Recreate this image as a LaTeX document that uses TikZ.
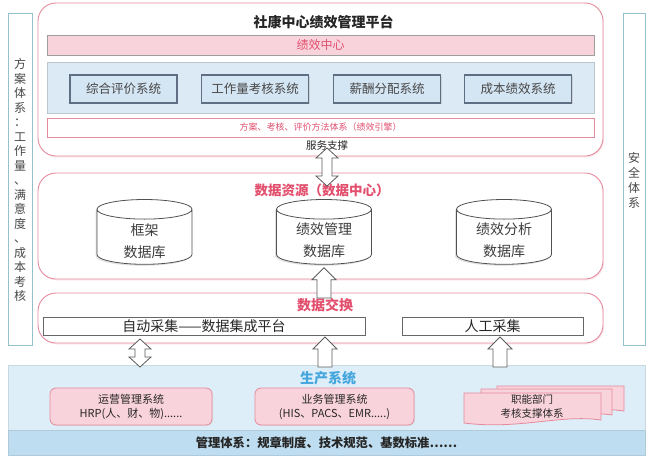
\documentclass[tikz,border=0pt]{standalone}
\usepackage{fontspec}
\setmainfont{Noto Sans CJK SC}
\usetikzlibrary{shapes.geometric,shadows,calc}
\definecolor{pinkline}{HTML}{E58A9C}
\definecolor{pinktext}{HTML}{E2506E}
\definecolor{pinkfill}{HTML}{F9D3DC}
\definecolor{bluepanel}{HTML}{DCEAF6}
\definecolor{bluebox}{HTML}{D4E5F3}
\definecolor{boxedge}{HTML}{5F6E82}
\definecolor{prodblue}{HTML}{DDEEF8}
\definecolor{mgmtblue}{HTML}{BEDDF0}
\definecolor{titleblue}{HTML}{45A6DD}
\definecolor{sideedge}{HTML}{93C2CE}
\definecolor{txt}{HTML}{262626}
\newcommand\blkup[2]{%
  \draw[blockarrow] ($(#1)+(-7,0)$) -- ($(#2)+(-7,12)$) -- ($(#2)+(-12,12)$) -- (#2)
    -- ($(#2)+(12,12)$) -- ($(#2)+(7,12)$) -- ($(#1)+(7,0)$) -- cycle;}
\newcommand\blkdbl[2]{%
  \draw[blockarrow] (#1) -- ($(#1)+(11,10)$) -- ($(#1)+(5,10)$) -- ($(#2)+(5,-10)$)
    -- ($(#2)+(11,-10)$) -- (#2) -- ($(#2)+(-11,-10)$) -- ($(#2)+(-5,-10)$)
    -- ($(#1)+(-5,10)$) -- ($(#1)+(-11,10)$) -- cycle;}
\newcommand\docsheet[4]{%
  \draw[docstyle] (#1,#2) -- (#3,#2) -- (#3,#4-3)
    .. controls ($(#3,#4)+(-40,-9)$) and ($(#1,#4)+(55,7)$) .. (#1,#4) -- cycle;}
\begin{document}
\begin{tikzpicture}[x=1pt,y=-1pt,
  every node/.style={text=txt, inner sep=0pt},
  bigbox/.style={draw=pinkline, line width=0.9pt, rounded corners=18pt, fill=white,
    drop shadow={shadow xshift=1.2pt, shadow yshift=-1.5pt, fill=pinkline!35}},
  sidebox/.style={draw=sideedge, line width=0.8pt, fill=white,
    drop shadow={shadow xshift=1pt, shadow yshift=-1pt, fill=sideedge!40}},
  sysbox/.style={draw=boxedge, line width=1.2pt, fill=bluebox, minimum width=107pt, minimum height=28pt,
    font=\fontsize{12.5}{14}\selectfont, text=txt!85,
    drop shadow={shadow xshift=1pt, shadow yshift=-1pt, fill=gray!55}},
  cyl/.style={cylinder, shape border rotate=90, aspect=0.35, draw=txt!80, line width=0.8pt, fill=white,
    minimum width=95pt, minimum height=60pt, align=center, font=\fontsize{14}{22}\selectfont,
    drop shadow={shadow xshift=-1.5pt, shadow yshift=-1.5pt, fill=gray!45}},
  cyltext/.style={align=center, font=\fontsize{14}{22.5}\selectfont, text=txt!90},
  whitebar/.style={draw=txt!70, line width=0.7pt, fill=white, minimum height=18pt,
    font=\fontsize{14}{16}\selectfont,
    drop shadow={shadow xshift=1pt, shadow yshift=-1pt, fill=gray!40}},
  pinkbox/.style={draw=pinkline, line width=0.8pt, fill=pinkfill, rounded corners=6pt,
    minimum height=37pt, align=center, font=\fontsize{11}{14}\selectfont,
    drop shadow={shadow xshift=1pt, shadow yshift=-1pt, fill=gray!35}},
  docstyle/.style={draw=pinkline, line width=0.8pt, fill=pinkfill},
  blockarrow/.style={draw=txt!75, line width=0.8pt, fill=white},
  ptitle/.style={text=pinktext, font=\fontsize{13.5}{16}\selectfont\bfseries},
]
\useasboundingbox (0,0) rectangle (648,456);

% side boxes
\node[sidebox, minimum width=24pt, minimum height=332pt] (leftbox) at (20,179) {};
\node[align=center, font=\fontsize{12}{14.5}\selectfont, text=txt!85] (lefttext) at (20,180)
  {方\\案\\体\\系\\：\\工\\作\\量\\、\\满\\意\\度\\、\\成\\本\\考\\核};
\node[sidebox, minimum width=22pt, minimum height=332pt] (rightbox) at (634,179) {};
\node[align=center, font=\fontsize{12}{15}\selectfont, text=txt!85] (righttext) at (634,180)
  {安\\全\\体\\系};

% top platform
\node[bigbox, minimum width=565pt, minimum height=153pt] (platform) at (320.5,79.5) {};
\node[font=\fontsize{14}{16}\selectfont\bfseries] (ptitle) at (323.5,22) {社康中心绩效管理平台};
\node[draw=gray!75, line width=1pt, fill=pinkfill, minimum width=547pt, minimum height=20pt,
  drop shadow={shadow xshift=0.8pt, shadow yshift=-1pt, fill=gray!50},
  text=pinktext, font=\fontsize{12}{14}\selectfont] (perf) at (320.5,45) {绩效中心};
\node[draw=bluebox!70!gray, line width=0.6pt, fill=bluepanel, minimum width=547pt, minimum height=51pt] (panel) at (320.5,87.5) {};
\node[sysbox] (s1) at (123.5,89) {综合评价系统};
\node[sysbox] (s2) at (255,89) {工作量考核系统};
\node[sysbox] (s3) at (387,89) {薪酬分配系统};
\node[sysbox] (s4) at (518,89) {成本绩效系统};
\node[draw=pinkline, line width=0.7pt, fill=white, minimum width=547pt, minimum height=19pt,
  text=pinktext, font=\fontsize{9}{11}\selectfont] (engine) at (320.5,127.5) {方案、考核、评价方法体系（绩效引擎）};
\node[font=\fontsize{10.5}{12}\selectfont] (svc) at (327,146) {服务支撑};

% data resources
\node[bigbox, minimum width=565pt, minimum height=106pt] (data) at (320.5,226) {};
\node[ptitle] (dtitle) at (322,190) {数据资源（数据中心）};
\node[cyl] (c1) at (144.5,237) {\phantom{绩效管理}\\\phantom{数据库}};
\node[cyl] (c2) at (324,237) {\phantom{绩效管理}\\\phantom{数据库}};
\node[cyl] (c3) at (504,237) {\phantom{绩效管理}\\\phantom{数据库}};
\node[cyltext] (c1t) at (144.5,241) {框架\\数据库};
\node[cyltext] (c2t) at (324,240) {绩效管理\\数据库};
\node[cyltext] (c3t) at (504,240) {绩效分析\\数据库};

% data exchange
\node[bigbox, minimum width=565pt, minimum height=50pt] (exch) at (320.5,318) {};
\node[ptitle, font=\fontsize{14}{16}\selectfont\bfseries] (xtitle) at (325,305) {数据交换};
\node[whitebar, minimum width=322pt] (auto) at (204,326) {自动采集——数据集成平台};
\node[whitebar, minimum width=181pt] (manual) at (492.5,326) {人工采集};

% production
\node[draw=prodblue!80!gray, line width=0.5pt, fill=prodblue, minimum width=637pt, minimum height=65pt] (prod) at (326.5,397.5) {};
\node[text=titleblue, font=\fontsize{14}{16}\selectfont\bfseries] (prodtitle) at (328,378) {生产系统};
\node[pinkbox, minimum width=162pt] (op) at (131,406.5) {运营管理系统\\HRP(人、财、物)......};
\node[pinkbox, minimum width=159pt] (biz) at (334.5,406.5) {业务管理系统\\(HIS、PACS、EMR.....)};
\docsheet{497}{386}{624}{414}
\docsheet{481}{389}{612}{418}
\docsheet{464}{393}{601}{423}
\node[align=center, font=\fontsize{10.5}{14}\selectfont] (func) at (532,406) {职能部门\\考核支撑体系};

% management
\node[draw=mgmtblue!80!gray, line width=0.5pt, fill=mgmtblue, minimum width=637pt, minimum height=25pt,
  font=\fontsize{12.3}{14}\selectfont\bfseries] (mgmt) at (326.5,442.5) {管理体系：规章制度、技术规范、基数标准……};

% block arrows
\coordinate (a1t) at (327,148);
\coordinate (a1b) at (327,186);
\blkdbl{a1t}{a1b}
\coordinate (a2s) at (c2.south |- xtitle.north);
\coordinate (a2e) at ($(c2.south)+(0,3)$);
\blkup{a2s}{a2e}
\coordinate (a3s) at (325,367);
\coordinate (a3e) at (325,337);
\blkup{a3s}{a3e}
\coordinate (a4s) at (500,367);
\coordinate (a4e) at (500,337);
\blkup{a4s}{a4e}
\coordinate (a5t) at (140,339);
\coordinate (a5b) at (140,367);
\blkdbl{a5t}{a5b}
\end{tikzpicture}
\end{document}
